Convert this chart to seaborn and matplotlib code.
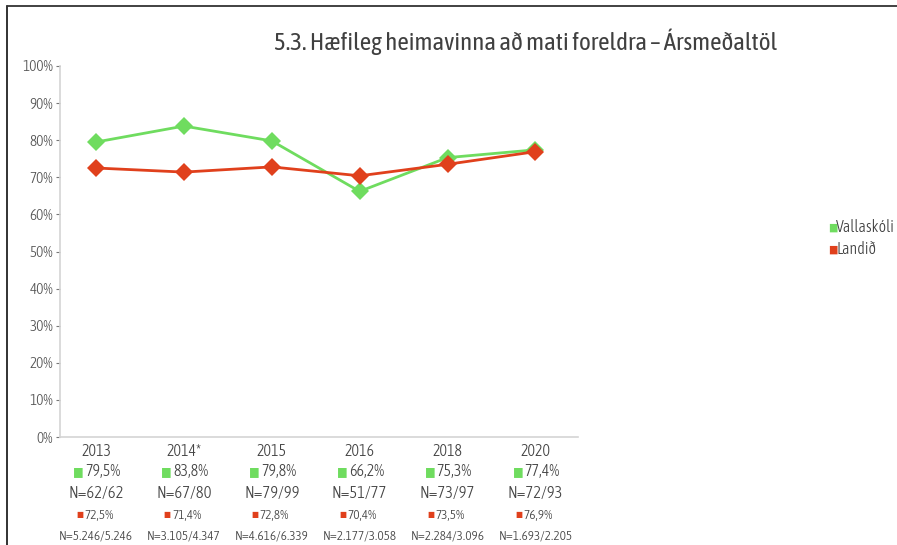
import pandas as pd
import matplotlib.pyplot as plt
import matplotlib.transforms as mtransforms
from matplotlib import font_manager
from matplotlib.lines import Line2D
import seaborn as sns

years = ["2013", "2014*", "2015", "2016", "2018", "2020"]
vallaskoli = [79.5, 83.8, 79.8, 66.2, 75.3, 77.4]
landid = [72.5, 71.4, 72.8, 70.4, 73.5, 76.9]
n_vallaskoli = ["N=62/62", "N=67/80", "N=79/99", "N=51/77", "N=73/97", "N=72/93"]
n_landid = ["N=5.246/5.246", "N=3.105/4.347", "N=4.616/6.339",
            "N=2.177/3.058", "N=2.284/3.096", "N=1.693/2.205"]
series_names = ["Vallaskóli", "Landið"]
colors = {"Vallaskóli": "#6fdc5f", "Landið": "#e0401c"}

sns.set_style("white")
# prefer a light, condensed face if one is installed
narrow = [f for f in font_manager.fontManager.ttflist
          if f.stretch in ("condensed", "semi-condensed", "extra-condensed")]
light = sorted(narrow, key=lambda f: abs(int(f.weight) - 300) if str(f.weight).isdigit() else 100)
fam = [light[0].name] if light else []
plt.rcParams['font.family'] = fam + ['DejaVu Sans']
plt.rcParams['font.stretch'] = 'condensed'
plt.rcParams['font.weight'] = light[0].weight if light else 'normal'

df = pd.DataFrame({
    "pos": list(range(len(years))) * 2,
    "value": vallaskoli + landid,
    "series": [series_names[0]] * len(years) + [series_names[1]] * len(years),
})

fig = plt.figure(figsize=(8.97, 5.45), dpi=100)
ax = fig.add_axes([0.0669, 0.198, 0.577, 0.681])

sns.lineplot(data=df, x="pos", y="value", hue="series", palette=colors,
             marker="D", markersize=9, markeredgewidth=0, linewidth=2,
             ax=ax, legend=False)

ax.set_xlim(-0.41, 5.48)
ax.set_ylim(0, 100)
ax.set_yticks(range(0, 101, 10))
ax.set_yticklabels([f"{v}%" for v in range(0, 101, 10)], fontsize=11, color="#555555")
ax.set_xticks(range(len(years)))
ax.set_xticklabels(years, fontsize=11.5, color="#444444")
ax.tick_params(axis="y", length=3, width=0.8, color="#777777", pad=2, left=True)
ax.tick_params(axis="x", length=0, pad=4)
ax.set_xlabel("")
ax.set_ylabel("")
for side in ["top", "right"]:
    ax.spines[side].set_visible(False)
for side in ["left", "bottom"]:
    ax.spines[side].set_color("#d4d4d4")
    ax.spines[side].set_linewidth(1.2)

ax.set_title("5.3. Hæfileg heimavinna að mati foreldra – Ársmeðaltöl",
             fontsize=18, color="#404040", x=0.9, y=1.02)

# table below the axis
def shifted(dx):
    return ax.get_xaxis_transform() + mtransforms.ScaledTranslation(dx / 100, 0, fig.dpi_scale_trans)

for i in range(len(years)):
    ax.text(i, -0.093, "■", transform=shifted(-12), ha="right", va="center",
            fontsize=9, color=colors["Vallaskóli"])
    ax.text(i, -0.093, f"{vallaskoli[i]:.1f}%".replace(".", ","), transform=shifted(-11),
            ha="left", va="center", fontsize=11.5, color="#444444")
    ax.text(i, -0.151, n_vallaskoli[i], ha="center", va="center", fontsize=12,
            color="#444444", transform=ax.get_xaxis_transform())
    ax.text(i, -0.21, "■", transform=shifted(-13), ha="right", va="center",
            fontsize=6, color=colors["Landið"])
    ax.text(i, -0.21, f"{landid[i]:.1f}%".replace(".", ","), transform=shifted(-12),
            ha="left", va="center", fontsize=9.5, color="#444444")
    ax.text(i, -0.267, n_landid[i], ha="center", va="center", fontsize=9.5,
            color="#444444", transform=ax.get_xaxis_transform())

# legend on the right
for k, name in enumerate(series_names):
    y = (545 - 227 - 22 * k) / 545
    fig.text(828 / 897, y, "■", fontsize=8, color=colors[name], ha="left", va="center")
    fig.text(836 / 897, y, name, fontsize=11.5, color="#404040", ha="left", va="center")

# frame lines
fig.add_artist(Line2D([7 / 897, 7 / 897], [0, 539 / 545], color="#222222", lw=1.3))
fig.add_artist(Line2D([7 / 897, 1], [539 / 545, 539 / 545], color="#333333", lw=1.3))

fig.savefig("out.png", dpi=100)
